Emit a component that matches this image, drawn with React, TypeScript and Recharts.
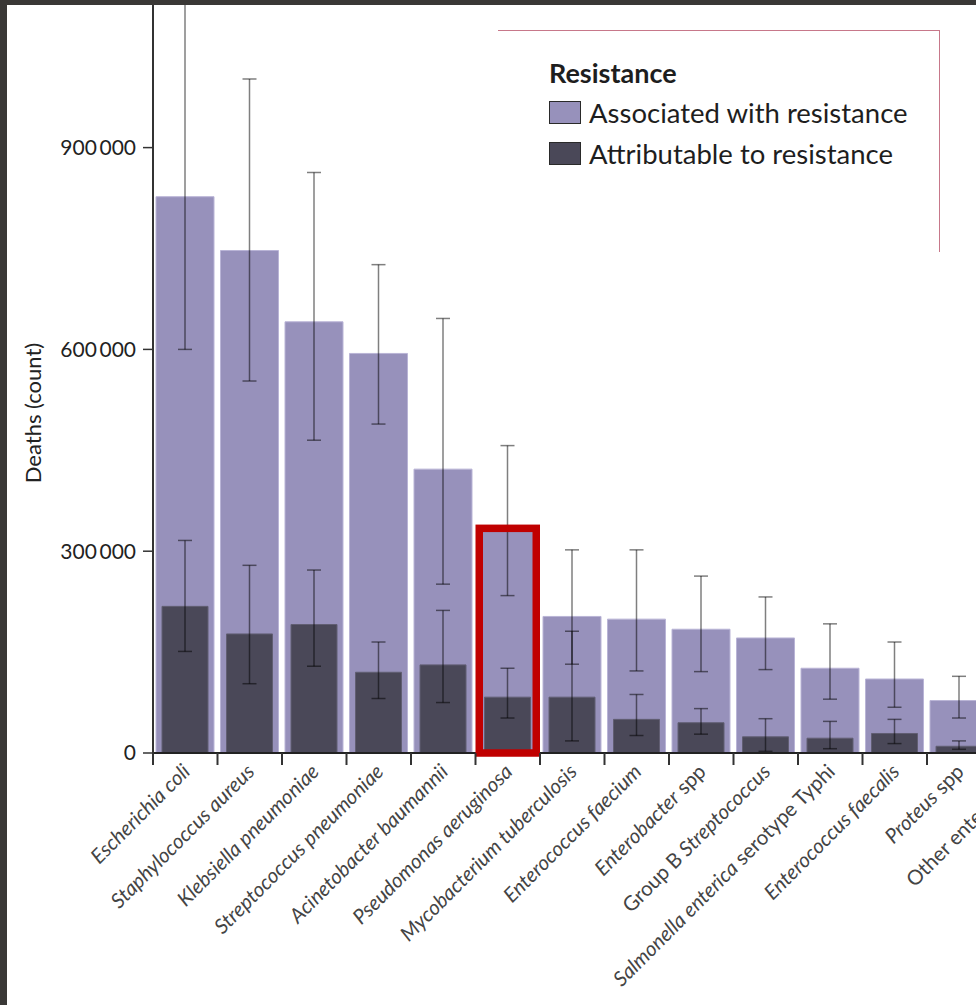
import React from "react"
import { BarChart, Bar, XAxis, YAxis, ErrorBar, ReferenceArea, Label } from "recharts"

const categories = [
  "Escherichia coli",
  "Staphylococcus aureus",
  "Klebsiella pneumoniae",
  "Streptococcus pneumoniae",
  "Acinetobacter baumannii",
  "Pseudomonas aeruginosa",
  "Mycobacterium tuberculosis",
  "Enterococcus faecium",
  "Enterobacter spp",
  "Group B Streptococcus",
  "Salmonella enterica serotype Typhi",
  "Enterococcus faecalis",
  "Proteus spp",
  "Other enterococci",
]

// words printed upright in the tick labels, everything else is italic
const uprightWords = ["spp", "Group", "B", "serotype", "Typhi", "Other", "enterococci"]

const associated = [827000, 747000, 641000, 594000, 422000, 334000, 203000, 199000, 184000, 171000, 126000, 110000, 78000, 68000]
const associatedLow = [600000, 553000, 465000, 489000, 251000, 234000, 132000, 122000, 121000, 124000, 80000, 68000, 52000, 45000]
const associatedHigh = [1140000, 1002000, 863000, 726000, 646000, 457000, 302000, 302000, 263000, 232000, 192000, 165000, 114000, 100000]

const attributable = [218000, 177000, 191000, 120000, 131000, 83000, 83000, 50000, 45000, 24000, 22000, 29000, 10000, 14000]
const attributableLow = [151000, 103000, 129000, 81000, 75000, 52000, 18000, 26000, 28000, 2500, 6400, 14000, 5500, 6000]
const attributableHigh = [316000, 279000, 272000, 165000, 212000, 126000, 181000, 87000, 66000, 51000, 47000, 50000, 18000, 25000]

const yTicks = [0, 300000, 600000, 900000]
const yMax = 1112000
const highlighted = "Pseudomonas aeruginosa"

const LIGHT = "#9791bb"
const DARK = "#4a4858"
const FONT = "Lato, 'Open Sans', sans-serif"
const PLOT_W = 903

const data = categories.map((name, i) => ({
  name,
  associated: associated[i],
  associatedErr: [associated[i] - associatedLow[i], associatedHigh[i] - associated[i]],
  attributable: attributable[i],
  attributableErr: [attributable[i] - attributableLow[i], attributableHigh[i] - attributable[i]],
}))

const formatY = (v: number) => (v === 0 ? "0" : `${v / 1000}\u2009000`)

function CategoryTick(props: any) {
  const { x, y, payload, index } = props
  const half = payload.offset ?? PLOT_W / categories.length / 2
  const words = String(payload.value).split(" ")
  const ax = x + 6
  const ay = y + 20
  return (
    <g>
      <line x1={x - half} y1={y} x2={x - half} y2={y + 12} stroke="#333" strokeWidth={2} />
      {index === categories.length - 1 && (
        <line x1={x + half} y1={y} x2={x + half} y2={y + 12} stroke="#333" strokeWidth={2} />
      )}
      <text
        x={ax}
        y={ay}
        transform={`rotate(-45 ${ax} ${ay})`}
        textAnchor="end"
        fontSize={20.5}
        fontFamily={FONT}
        fill="#444"
      >
        {words.map((w, i) => (
          <tspan key={i} fontStyle={uprightWords.includes(w) ? "normal" : "italic"}>
            {(i > 0 ? " " : "") + w}
          </tspan>
        ))}
      </text>
    </g>
  )
}

function HighlightBox(props: any) {
  const { x, y, width, height } = props
  const sw = 7.5
  return (
    <rect
      x={x + sw / 2}
      y={y}
      width={width - sw}
      height={height}
      fill="none"
      stroke="#c00000"
      strokeWidth={sw}
    />
  )
}

function LegendBox() {
  const items = [
    { label: "Associated with resistance", color: LIGHT },
    { label: "Attributable to resistance", color: DARK },
  ]
  return (
    <div style={{ position: "absolute", left: 549, top: 58, fontFamily: FONT, color: "#1e1e1e" }}>
      <div style={{ fontSize: 27, fontWeight: 700, lineHeight: "30px", marginBottom: 4 }}>Resistance</div>
      {items.map((it) => (
        <div key={it.label} style={{ display: "flex", alignItems: "center", height: 41, fontSize: 27.5 }}>
          <span
            style={{
              display: "inline-block",
              width: 30,
              height: 21,
              background: it.color,
              border: "1.5px solid #2a2a2a",
              marginRight: 8,
            }}
          />
          {it.label}
        </div>
      ))}
    </div>
  )
}

export default function App() {
  return (
    <div style={{ position: "absolute", left: 0, top: 0, width: 976, height: 1005, background: "#3a3836", overflow: "hidden" }}>
      <div style={{ position: "absolute", left: 7, top: 5, right: 0, bottom: 0, background: "#fff", overflow: "hidden" }}>
        <BarChart
          width={146 + PLOT_W}
          height={1000}
          data={data}
          margin={{ top: 0, right: 0, bottom: 0, left: 0 }}
          style={{ fontFamily: FONT }}
        >
          <XAxis
            xAxisId="a"
            dataKey="name"
            interval={0}
            height={252}
            tickLine={false}
            tickSize={0}
            tickMargin={0}
            tick={<CategoryTick />}
            axisLine={{ stroke: "#222", strokeWidth: 2 }}
          />
          <XAxis xAxisId="b" dataKey="name" hide height={0} />
          <YAxis
            type="number"
            domain={[0, yMax]}
            ticks={yTicks}
            allowDataOverflow
            width={146}
            tickFormatter={formatY}
            tickSize={10}
            tickMargin={7}
            tick={{ fontSize: 21, fill: "#222", fontFamily: FONT }}
            tickLine={{ stroke: "#333", strokeWidth: 1.5 }}
            axisLine={{ stroke: "#333", strokeWidth: 2 }}
          >
            <Label
              content={({ viewBox }: any) => {
                const cx = viewBox.x + 25
                const cy = viewBox.y + viewBox.height / 2 + 34
                return (
                  <text
                    x={cx}
                    y={cy}
                    transform={`rotate(-90 ${cx} ${cy})`}
                    textAnchor="middle"
                    dominantBaseline="central"
                    fontSize={22}
                    fontFamily={FONT}
                    fill="#222"
                  >
                    Deaths (count)
                  </text>
                )
              }}
            />
          </YAxis>
          <Bar
            xAxisId="a"
            dataKey="associated"
            fill={LIGHT}
            stroke="#b9b4d6"
            strokeWidth={1}
            barSize={58}
            isAnimationActive={false}
          >
            <ErrorBar dataKey="associatedErr" width={7} stroke="rgba(0,0,0,0.5)" strokeWidth={1.5} />
          </Bar>
          <Bar
            xAxisId="b"
            dataKey="attributable"
            fill={DARK}
            stroke="#615e72"
            strokeWidth={1}
            barSize={46}
            isAnimationActive={false}
          >
            <ErrorBar dataKey="attributableErr" width={7} stroke="rgba(0,0,0,0.5)" strokeWidth={1.5} />
          </Bar>
          <ReferenceArea
            xAxisId="a"
            x1={highlighted}
            x2={highlighted}
            y1={0}
            y2={associated[categories.indexOf(highlighted)]}
            ifOverflow="visible"
            zIndex={1500}
            shape={(p: any) => <HighlightBox {...p} />}
          />
        </BarChart>
      </div>
      <div
        style={{
          position: "absolute",
          left: 498,
          top: 30,
          width: 441,
          height: 221,
          borderTop: "1.5px solid #c7788a",
          borderRight: "1.5px solid #c7788a",
        }}
      />
      <LegendBox />
    </div>
  )
}
